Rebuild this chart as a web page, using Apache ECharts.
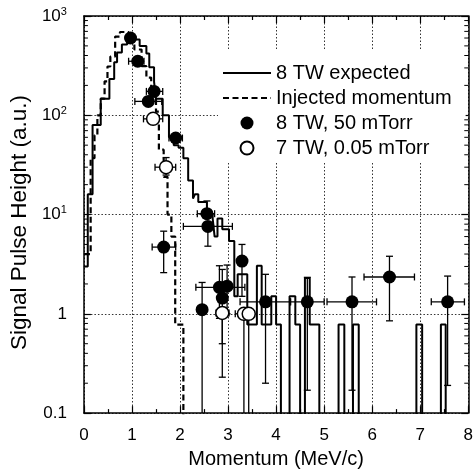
<!DOCTYPE html>
<html><head><meta charset="utf-8">
<script src="https://cdn.jsdelivr.net/npm/echarts@6/dist/echarts.min.js"></script>
<style>html,body{margin:0;padding:0;background:#fff}#c{width:476px;height:474px}</style>
</head><body><div id="c"></div>
<script>
// ---- data ----
const xTicks = [0, 1, 2, 3, 4, 5, 6, 7, 8];
const yTickLabels = ['0.1', '1', '10^1', '10^2', '10^3'];   // exponents -1..3
const yMinorTicks = [0.2,0.3,0.4,0.5,0.6,0.7,0.8,0.9, 2,3,4,5,6,7,8,9, 20,30,40,50,60,70,80,90, 200,300,400,500,600,700,800,900];

// "8 TW expected" step histogram: left bin edges and heights (0 = below axis)
const expectedEdges  = [0, 0.08, 0.18, 0.35, 0.53, 0.63, 0.69, 0.79, 0.9, 1.06, 1.16, 1.3, 1.36, 1.46, 1.5, 1.64, 1.77, 1.87, 1.97, 2.07, 2.17, 2.27, 2.31, 2.38, 2.56, 2.68, 2.72, 2.78, 2.88, 3.02, 3.13, 3.2, 3.4, 3.6, 3.7, 3.9, 4.0, 4.1, 4.28, 4.4, 4.5, 4.6, 4.7, 4.9, 5.3, 5.42, 5.6, 5.72, 6.92, 7.04, 7.43, 7.53, 8.0];
const expectedValues = [3, 16, 80, 147, 232, 343, 430, 516, 620, 580, 500, 420, 305, 217, 147, 100, 60, 50, 47, 37, 22, 14.5, 16, 13.4, 10, 9.1, 6, 9.1, 7.1, 5.4, 1.5, 2.5, 0.78, 3.05, 0.78, 1.5, 0.78, 0, 1.5, 0.78, 0, 2.3, 0.78, 0, 0.78, 0, 0.78, 0, 0.78, 0, 0.78, 0, 0];

// "Injected momentum" step histogram
const injectedEdges  = [0, 0.14, 0.22, 0.28, 0.35, 0.43, 0.49, 0.55, 0.65, 0.75, 0.93, 1.05, 1.2, 1.3, 1.4, 1.5, 1.56, 1.66, 1.74, 1.82, 1.9, 2.07];
const injectedValues = [4, 37, 63, 100, 147, 220, 310, 390, 620, 690, 560, 460, 312, 240, 173, 109, 45, 24, 10, 6, 0.78, 0];

// points: [x, y, xLow, xHigh, yLow, yHigh]   (yLow 0 = error bar runs below axis)
const tw8_50mTorr = [
  [0.97, 600, 0.88, 1.06, 600, 600],
  [1.12, 350, 0.93, 1.25, 350, 350],
  [1.34, 138, 1.06, 1.62, 138, 138],
  [1.46, 174, 1.30, 1.64, 174, 174],
  [1.66, 4.7, 1.42, 1.91, 2.6, 6.8],
  [1.91, 59, 1.77, 2.05, 59, 59],
  [2.46, 1.1, 2.40, 2.52, 0, 2.07],
  [2.56, 10.2, 2.36, 2.72, 10.2, 13.7],
  [2.58, 7.6, 2.07, 3.09, 4.8, 7.6],
  [2.82, 1.85, 2.33, 3.35, 0.9, 3.05],
  [2.98, 1.9, 2.90, 3.06, 1.0, 3.1],
  [2.88, 1.44, 2.80, 2.96, 0.5, 2.8],
  [3.29, 3.4, 3.21, 3.37, 1.5, 5.0],
  [3.78, 1.32, 3.25, 4.30, 0.2, 2.5],
  [4.65, 1.32, 4.30, 5.00, 0.17, 2.33],
  [5.58, 1.32, 5.06, 6.09, 0.17, 2.35],
  [6.36, 2.35, 5.83, 6.88, 0.85, 3.8],
  [7.57, 1.32, 7.23, 7.92, 0.19, 2.4]
];
const tw7_005mTorr = [
  [1.44, 92, 1.24, 1.64, 92, 92],
  [1.71, 30, 1.48, 1.91, 25, 37.5],
  [2.88, 1.02, 2.75, 3.02, 0.23, 1.02],
  [3.33, 1.0, 3.15, 3.43, 0, 1.0],
  [3.43, 1.0, 3.33, 3.55, 0, 1.0]
];

// ---- chart ----
const FONT = 'Liberation Sans, Arial, Helvetica, sans-serif';
const BELOW = 0.001; // stand-in for zero on the log axis (clipped)
function steps(edges, vals) { return edges.map((e, i) => [e, vals[i] > 0 ? vals[i] : BELOW]); }

function errItem(params, api) {
  const cs = params.coordSys;
  const bottom = cs.y + cs.height;
  const x = api.value(0), y = api.value(1);
  const xl = api.value(2), xh = api.value(3), yl = api.value(4), yh = api.value(5);
  const c = api.coord([x, y]);
  const L = api.coord([xl, y]), H = api.coord([xh, y]);
  let yLowPix, lowCap = true;
  if (yl > 0) { yLowPix = api.coord([x, yl])[1]; } else { yLowPix = bottom; lowCap = false; }
  if (yLowPix > bottom) { yLowPix = bottom; lowCap = false; }
  const yHighPix = api.coord([x, yh])[1];
  const st = { stroke: '#000', lineWidth: 1.3 };
  const cap = 3.5;
  const ch = [];
  ch.push({ type: 'line', shape: { x1: L[0], y1: c[1], x2: H[0], y2: c[1] }, style: st });
  if (H[0] - L[0] > 2) {
    ch.push({ type: 'line', shape: { x1: L[0], y1: c[1] - cap, x2: L[0], y2: c[1] + cap }, style: st });
    ch.push({ type: 'line', shape: { x1: H[0], y1: c[1] - cap, x2: H[0], y2: c[1] + cap }, style: st });
  }
  if (yLowPix - yHighPix > 1) {
    ch.push({ type: 'line', shape: { x1: c[0], y1: yHighPix, x2: c[0], y2: yLowPix }, style: st });
    if (Math.abs(yHighPix - c[1]) > 1) ch.push({ type: 'line', shape: { x1: c[0] - cap, y1: yHighPix, x2: c[0] + cap, y2: yHighPix }, style: st });
    if (lowCap && Math.abs(yLowPix - c[1]) > 1) ch.push({ type: 'line', shape: { x1: c[0] - cap, y1: yLowPix, x2: c[0] + cap, y2: yLowPix }, style: st });
  }
  return { type: 'group', children: ch };
}

function minorTickItem(params, api) {
  const cs = params.coordSys;
  const p = api.coord([0, api.value(1)]);
  const st = { stroke: '#000', lineWidth: 1 };
  return { type: 'group', children: [
    { type: 'line', shape: { x1: cs.x, y1: p[1], x2: cs.x + 4, y2: p[1] }, style: st },
    { type: 'line', shape: { x1: cs.x + cs.width - 4, y1: p[1], x2: cs.x + cs.width, y2: p[1] }, style: st }
  ]};
}

function yLabel(v) {
  const e = Math.round(Math.log10(v));
  const t = yTickLabels[e + 1] || '';
  if (t.indexOf('^') >= 0) { const p = t.split('^'); return '{b|' + p[0] + '}{s|' + p[1] + '}'; }
  return '{b|' + t + '}';
}

const axisLineStyle = { color: '#000', width: 1.5 };
const tickStyle = { color: '#000', width: 1.2 };
const gridDotted = { color: '#333', width: 1, type: [1.5, 2] };

const xBase = {
  type: 'value', min: xTicks[0], max: xTicks[xTicks.length - 1], interval: 1,
  axisLine: { show: true, onZero: false, lineStyle: axisLineStyle },
  axisTick: { show: true, inside: true, length: 7, lineStyle: tickStyle },
  minorTick: { show: true, splitNumber: 2, length: 4, lineStyle: tickStyle }
};
const yBase = {
  type: 'log', logBase: 10, min: 0.1, max: 1000, interval: 1,
  axisLine: { show: true, onZero: false, lineStyle: axisLineStyle },
  axisTick: { show: true, inside: true, length: 7, lineStyle: tickStyle }
};

const hiddenSymbol = { opacity: 0, color: 'rgba(0,0,0,0)', borderWidth: 0 };

const chart = echarts.init(document.getElementById('c'), null, { renderer: 'canvas' });
chart.setOption({
  animation: false,
  backgroundColor: '#fff',
  textStyle: { fontFamily: FONT, color: '#000' },
  grid: { left: 76, right: 5, top: 16, bottom: 54, containLabel: false },
  xAxis: [
    Object.assign({}, xBase, {
      position: 'bottom',
      axisLabel: { show: true, fontSize: 17, color: '#000', margin: 14, fontFamily: FONT,
        formatter: v => String(v) },
      splitLine: { show: true, lineStyle: gridDotted },
      name: 'Momentum (MeV/c)', nameLocation: 'middle', nameGap: 34,
      nameTextStyle: { fontSize: 20, color: '#000', fontFamily: FONT }
    }),
    Object.assign({}, xBase, { position: 'top', axisLabel: { show: false }, splitLine: { show: false } })
  ],
  yAxis: [
    Object.assign({}, yBase, {
      position: 'left',
      axisLabel: { show: true, margin: 17, formatter: yLabel,
        rich: {
          b: { fontSize: 17, lineHeight: 20, color: '#000', fontFamily: FONT },
          s: { fontSize: 11, lineHeight: 11, verticalAlign: 'top', color: '#000', fontFamily: FONT }
        } },
      splitLine: { show: true, lineStyle: gridDotted },
      name: 'Signal Pulse Height (a.u.)', nameLocation: 'middle', nameGap: 48, nameRotate: 90,
      nameTextStyle: { fontSize: 22.5, color: '#000', fontFamily: FONT, padding: [0, 16, 0, 0] }
    }),
    Object.assign({}, yBase, { position: 'right', axisLabel: { show: false }, splitLine: { show: false } })
  ],
  legend: {
    data: [
      { name: '8 TW expected', itemStyle: hiddenSymbol },
      { name: 'Injected momentum', itemStyle: hiddenSymbol },
      { name: '8 TW, 50 mTorr' },
      { name: '7 TW, 0.05 mTorr' }
    ],
    orient: 'vertical', left: 218, top: 50,
    padding: [12, 14, 3, 4], itemGap: 3, itemWidth: 48, itemHeight: 13, itemTextGap: 7,
    backgroundColor: '#fff',
    textStyle: { fontSize: 20, lineHeight: 22, color: '#000', fontFamily: FONT },
    selectedMode: false
  },
  series: [
    { type: 'custom', name: 'minorTicks', renderItem: minorTickItem, silent: true, z: 5,
      data: yMinorTicks.map(v => [0, v]), encode: { x: 0, y: 1 } },
    { type: 'line', name: '8 TW expected', step: 'end', showSymbol: false, symbol: 'none',
      data: steps(expectedEdges, expectedValues), clip: true, z: 2,
      lineStyle: { color: '#000', width: 2, type: 'solid' }, itemStyle: { color: '#000' } },
    { type: 'line', name: 'Injected momentum', step: 'end', showSymbol: false, symbol: 'none',
      data: steps(injectedEdges, injectedValues), clip: true, z: 2,
      lineStyle: { color: '#000', width: 2.2, type: [6, 3.5] }, itemStyle: { color: '#000' } },
    { type: 'custom', name: 'err8', renderItem: errItem, silent: true, z: 3,
      data: tw8_50mTorr, encode: { x: 0, y: 1 } },
    { type: 'custom', name: 'err7', renderItem: errItem, silent: true, z: 3,
      data: tw7_005mTorr, encode: { x: 0, y: 1 } },
    { type: 'scatter', name: '8 TW, 50 mTorr', symbol: 'circle', symbolSize: 13, z: 4,
      data: tw8_50mTorr.map(p => [p[0], p[1]]),
      itemStyle: { color: '#000', opacity: 1 } },
    { type: 'scatter', name: '7 TW, 0.05 mTorr', symbol: 'circle', symbolSize: 13, z: 4,
      data: tw7_005mTorr.map(p => [p[0], p[1]]),
      itemStyle: { color: '#fff', borderColor: '#000', borderWidth: 1.5, opacity: 1 } }
  ]
});
</script>
</body></html>
